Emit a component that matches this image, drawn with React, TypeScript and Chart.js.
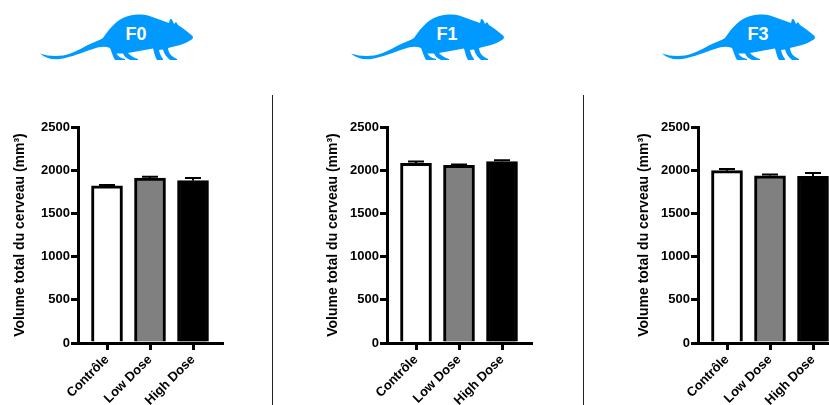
import React, { useEffect, useRef } from "react";
import { Chart, registerables } from "chart.js";

Chart.register(...registerables);

const categories = ["Contrôle", "Low Dose", "High Dose"];
const barColors = ["#ffffff", "#808080", "#000000"];
const yTicks = [0, 500, 1000, 1500, 2000, 2500];
const yTitle = "Volume total du cerveau (mm³)";
const FONT = '"Liberation Sans", Arial, sans-serif';

const f0Values = [1820, 1910, 1880];
const f0Errors = [10, 14, 30];
const f1Values = [2080, 2055, 2100];
const f1Errors = [22, 10, 14];
const f3Values = [1995, 1935, 1930];
const f3Errors = [18, 16, 38];

const panels = [
  { name: "F0", left: 0, titlePad: 12, values: f0Values, errors: f0Errors, ratX: 0 },
  { name: "F1", left: 309, titlePad: 16, values: f1Values, errors: f1Errors, ratX: 311 },
  { name: "F3", left: 620, titlePad: 16, values: f3Values, errors: f3Errors, ratX: 622 },
];

const RAT =
  "M40 53.5C47 56 55 56.5 63 55.5C72 54 80 49 90 44C96 41.5 100 40 103 38C107 32 111 27 115 23.5C121 18 129 14.5 138 14.5C145 14 150 16 155 18L169 23L170 19L172 19.5L174 24L176 22L178 25C183 28 188 32 193 36.5L192.5 39C188 42 184 44 180 45L168 48C168.5 52 170 56 177 59L177 60L170 60C166 57 164 53 163 49.5L159 50C159.5 52 160 55 163 59L163 60L157 60C155 57 154 52 153 48.5L128 53C130 55 134 58 138 59L138 60L130 60C126 58 124 56 123 53.5L116.5 53.5C117 55 120 58 125 59L125 60L115 60C113 57 112 53 110 48C105 46 100 46.5 93 49C82 52.5 72 57 60 59C52 60 45 58 40 53.5Z";

const errorBars = {
  id: "errorBars",
  afterDatasetsDraw(chart: any) {
    const { ctx } = chart;
    const meta = chart.getDatasetMeta(0);
    const errors: number[] = chart.options.plugins.errorBars.errors;
    const ds = chart.data.datasets[0].data;
    meta.data.forEach((bar: any, i: number) => {
      const yBase = chart.scales.y.getPixelForValue(ds[i].y);
      const yTop = chart.scales.y.getPixelForValue(ds[i].y + errors[i]);
      ctx.save();
      ctx.strokeStyle = "#000";
      ctx.lineWidth = 2;
      ctx.beginPath();
      ctx.moveTo(bar.x, yBase);
      ctx.lineTo(bar.x, yTop);
      ctx.moveTo(bar.x - 8, yTop);
      ctx.lineTo(bar.x + 8, yTop);
      ctx.stroke();
      ctx.restore();
    });
  },
};

function Panel({ panel }: { panel: (typeof panels)[number] }) {
  const ref = useRef<HTMLCanvasElement>(null);
  useEffect(() => {
    const chart = new Chart(ref.current as HTMLCanvasElement, {
      type: "bar",
      data: {
        datasets: [
          {
            data: panel.values.map((y, x) => ({ x, y })),
            backgroundColor: barColors,
            borderColor: "#000000",
            borderWidth: 3,
            barThickness: 31,
          },
        ],
      },
      plugins: [errorBars],
      options: {
        animation: false,
        responsive: false,
        layout: { padding: { top: 127, right: 13, bottom: 0, left: 0 } },
        plugins: {
          legend: { display: false },
          tooltip: { enabled: false },
          errorBars: { errors: panel.errors },
        } as any,
        scales: {
          x: {
            type: "linear",
            offset: false,
            min: 1 - 72 / 43,
            max: 1 + 72 / 43,
            afterBuildTicks: (s: any) => {
              s.ticks = categories.map((_, i) => ({ value: i }));
            },
            afterFit: (s: any) => {
              s.height = 62;
            },
            border: { color: "#000", width: 3 },
            grid: {
              offset: false,
              drawOnChartArea: false,
              color: "#000",
              lineWidth: 3,
              tickColor: "#000",
              tickWidth: 3,
              tickLength: 7,
            },
            ticks: {
              autoSkip: false,
              maxRotation: 45,
              minRotation: 45,
              color: "#000",
              padding: 2,
              font: { family: FONT, size: 13, weight: "bold" },
              callback: (v: any) => categories[v as number],
            },
          },
          y: {
            min: 0,
            max: 2500,
            afterBuildTicks: (s: any) => {
              s.ticks = yTicks.map((value) => ({ value }));
            },
            afterFit: (s: any) => {
              s.width = 78;
            },
            border: { color: "#000", width: 3 },
            grid: {
              drawOnChartArea: false,
              color: "#000",
              lineWidth: 3,
              tickColor: "#000",
              tickWidth: 3,
              tickLength: 7,
            },
            ticks: {
              color: "#000",
              padding: 1,
              font: { family: FONT, size: 13, weight: "bold" },
              callback: (v: any) => String(v),
            },
            title: {
              display: true,
              text: yTitle,
              color: "#000",
              padding: { top: panel.titlePad, bottom: 0 },
              font: { family: FONT, size: 14, weight: "bold" },
            },
          },
        },
      } as any,
    });
    return () => chart.destroy();
  }, [panel]);
  return (
    <canvas
      ref={ref}
      width={235}
      height={405}
      style={{ position: "absolute", left: panel.left, top: 0, width: 235, height: 405 }}
    />
  );
}

export default function App() {
  useEffect(() => {
    document.body.style.margin = "0";
  }, []);
  return (
    <div
      style={{
        position: "fixed",
        left: 0,
        top: 0,
        width: 829,
        height: 405,
        overflow: "hidden",
        background: "#fff",
      }}
    >
      <svg width={829} height={405} style={{ position: "absolute", left: 0, top: 0 }}>
        {panels.map((p) => (
          <g key={p.name} transform={`translate(${p.ratX} 0)`}>
            <path d={RAT} fill="#0099ff" />
            <text
              x={136}
              y={39.5}
              textAnchor="middle"
              fill="#fff"
              fontFamily={FONT}
              fontWeight="bold"
              fontSize={18}
            >
              {p.name}
            </text>
          </g>
        ))}
        <line x1={272.5} y1={95} x2={272.5} y2={405} stroke="#222" strokeWidth={1} />
        <line x1={583.5} y1={95} x2={583.5} y2={405} stroke="#222" strokeWidth={1} />
      </svg>
      {panels.map((p) => (
        <Panel key={p.name} panel={p} />
      ))}
    </div>
  );
}
